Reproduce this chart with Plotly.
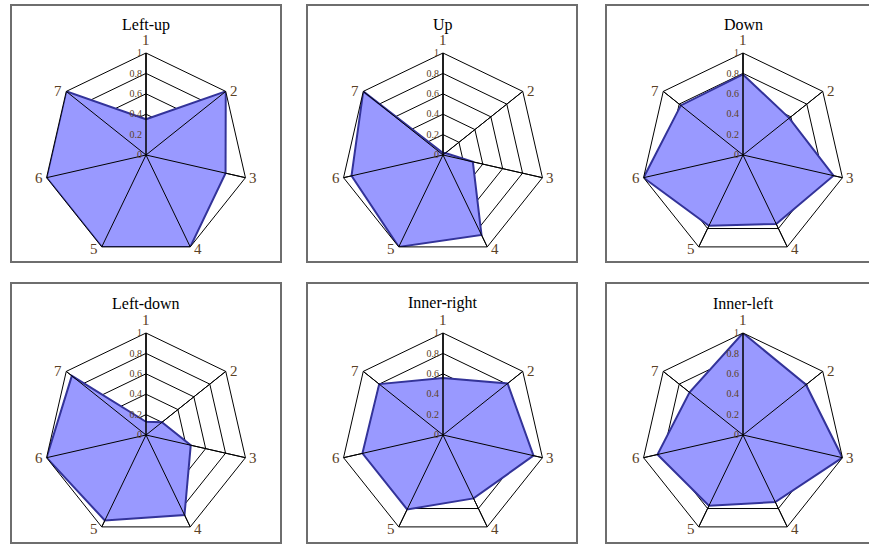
import math
import plotly.graph_objects as go

W, H = 869, 544

categories = ["1", "2", "3", "4", "5", "6", "7"]
titles = ["Left-up", "Up", "Down", "Left-down", "Inner-right", "Inner-left"]

left_up = [0.35, 1.0, 0.80, 1.0, 1.0, 1.0, 1.0]
up = [0.02, 0.03, 0.30, 0.87, 1.0, 0.92, 1.0]
down = [0.79, 0.58, 0.91, 0.75, 0.77, 1.0, 0.78]
left_down = [0.13, 0.20, 0.45, 0.87, 0.93, 1.0, 0.93]
inner_right = [0.56, 0.81, 0.91, 0.69, 0.81, 0.81, 0.80]
inner_left = [1.0, 0.79, 1.0, 0.73, 0.77, 0.86, 0.67]

series = [left_up, up, down, left_down, inner_right, inner_left]
radial_ticks = [0, 0.2, 0.4, 0.6, 0.8, 1.0]
radial_ticktext = ["0", "0.2", "0.4", "0.6", "0.8", "1"]

# layout geometry (pixels)
col_cx = [146, 443, 743]
row_cy = [155, 435]
R = 102
col_box = [(11, 281), (307, 577), (606, 880)]
row_box = [(5, 262), (283, 543)]

FILL = "rgb(153,153,255)"
EDGE = "rgb(51,51,153)"
LABEL = "#5a4024"
FONT = "Liberation Serif, Times New Roman, serif"

fig = go.Figure()
layout_polars = {}
annotations = []
shapes = []

n = len(categories)
for i, (title, vals) in enumerate(zip(titles, series)):
    r_i, c_i = divmod(i, 3)
    cx, cy = col_cx[c_i], row_cy[r_i]
    name = "polar" if i == 0 else f"polar{i+1}"
    sub = name
    fig.add_trace(go.Scatterpolar(
        r=vals + [vals[0]], theta=categories + [categories[0]],
        mode="lines", fill="toself", fillcolor=FILL,
        line=dict(color=EDGE, width=2), subplot=sub,
        showlegend=False, hoverinfo="skip"))
    # spokes drawn above the fill (as in the original chart)
    sr, st = [], []
    for cat in categories:
        sr += [0, 1, None]
        st += [cat, cat, None]
    fig.add_trace(go.Scatterpolar(
        r=sr, theta=st, mode="lines", line=dict(color="black", width=1),
        subplot=sub, showlegend=False, hoverinfo="skip", connectgaps=False))
    layout_polars[name] = dict(
        domain=dict(x=[(cx - R) / W, (cx + R) / W],
                    y=[1 - (cy + R) / H, 1 - (cy - R) / H]),
        gridshape="linear",
        bgcolor="white",
        radialaxis=dict(range=[0, 1], tickvals=radial_ticks, ticktext=radial_ticktext,
                        angle=90, tickangle=90, side="counterclockwise",
                        showline=True, linecolor="black", linewidth=1,
                        gridcolor="black", gridwidth=1, ticks="",
                        tickfont=dict(family=FONT, size=10, color=LABEL)),
        angularaxis=dict(categoryarray=categories, type="category",
                         direction="clockwise", rotation=90,
                         showline=True, linecolor="black", linewidth=1,
                         gridcolor="black", gridwidth=1, ticks="",
                         showticklabels=False),
    )
    # category labels placed beside the outer polygon vertices
    for k, cat in enumerate(categories):
        ang = 2 * math.pi * k / n
        vx = cx + R * math.sin(ang)
        vy = cy - R * math.cos(ang)
        if k == 0:
            xa, ya, xs, ys = "center", "bottom", 0, 3
        elif math.sin(ang) > 0:
            xa, ya, xs, ys = "left", "middle", 2, 0
        else:
            xa, ya, xs, ys = "right", "middle", -2, 0
        if k in (3, 4):
            ys = -2
        annotations.append(dict(text=cat, x=vx / W, y=1 - vy / H, xref="paper", yref="paper",
                                showarrow=False, xanchor=xa, yanchor=ya, xshift=xs, yshift=ys,
                                font=dict(family=FONT, size=15, color=LABEL)))
    annotations.append(dict(text=title, x=cx / W, y=1 - (row_box[r_i][0] + 20) / H,
                            xref="paper", yref="paper", showarrow=False,
                            font=dict(family=FONT, size=16, color="black"),
                            xanchor="center", yanchor="middle"))
    x0, x1 = col_box[c_i]
    y0, y1 = row_box[r_i]
    shapes.append(dict(type="rect", xref="paper", yref="paper",
                       x0=x0 / W, x1=x1 / W, y0=1 - y1 / H, y1=1 - y0 / H,
                       line=dict(color="#6e6e6e", width=2), fillcolor="rgba(0,0,0,0)",
                       layer="below"))

fig.update_layout(width=W, height=H, margin=dict(l=0, r=0, t=0, b=0),
                  paper_bgcolor="white", plot_bgcolor="white",
                  annotations=annotations, shapes=shapes, **layout_polars)

fig.write_html("out.html")
